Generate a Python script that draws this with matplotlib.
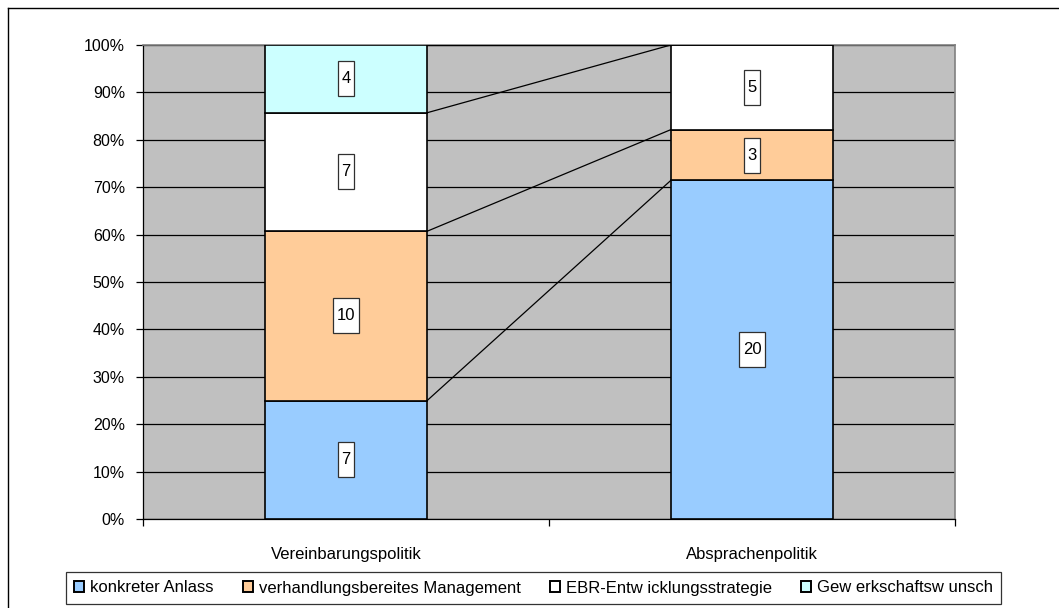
import matplotlib
matplotlib.use("Agg")
import matplotlib.pyplot as plt
import numpy as np
from matplotlib.patches import Patch
from matplotlib.lines import Line2D
from matplotlib.path import Path

plt.rcParams['font.family'] = ['Liberation Sans', 'DejaVu Sans']

categories = ["Vereinbarungspolitik", "Absprachenpolitik"]
series_names = ["konkreter Anlass", "verhandlungsbereites Management",
                "EBR-Entw icklungsstrategie", "Gew erkschaftsw unsch"]
konkreter = [7, 20]
management = [10, 3]
strategie = [7, 5]
gewerkschaft = [4, 0]
colors = ["#99CCFF", "#FFCC99", "#FFFFFF", "#CCFFFF"]

series = [konkreter, management, strategie, gewerkschaft]
vals = np.array(series, dtype=float)
totals = vals.sum(axis=0)
pct = vals / totals


def tall_box(x0, y0, width, height, mutation_size):
    px = 0.22 * mutation_size
    py = 0.6 * mutation_size
    x0, y0 = x0 - px, y0 - py
    x1, y1 = x0 + width + 2 * px, y0 + height + 2 * py
    return Path([(x0, y0), (x1, y0), (x1, y1), (x0, y1), (x0, y0)], closed=True)


W, H = 1059, 608
fig = plt.figure(figsize=(W / 100, H / 100), dpi=100)
ax = fig.add_axes([143 / W, 1 - 519 / H, (955 - 143) / W, (519 - 45) / H])
ax.set_facecolor("#C0C0C0")

x = np.arange(len(categories))
bw = 0.4
bottom = np.zeros(len(categories))
for i, (name, col) in enumerate(zip(series_names, colors)):
    ax.bar(x, pct[i], bw, bottom=bottom, color=col, edgecolor="black",
           linewidth=1.2, zorder=3)
    for j in range(len(categories)):
        if vals[i, j] > 0:
            ax.text(x[j], bottom[j] + pct[i, j] / 2, f"{int(vals[i, j])}",
                    ha="center", va="center", fontsize=12, zorder=5,
                    bbox=dict(boxstyle=tall_box, fc="white",
                              ec="#303030", lw=0.9))
    bottom = bottom + pct[i]

# series lines
cum = np.cumsum(pct, axis=0)
for i in range(len(series_names)):
    ax.plot([x[0] + bw / 2, x[1] - bw / 2], [cum[i, 0], cum[i, 1]],
            color="black", lw=0.9, zorder=4)

ax.set_xlim(-0.5, 1.5)
ax.set_ylim(0, 1)
ax.set_yticks(np.arange(0, 1.01, 0.1))
ax.set_yticklabels([f"{int(round(v * 100))}%" for v in np.arange(0, 1.01, 0.1)])
ax.yaxis.grid(True, color="black", lw=0.9, zorder=1)
ax.set_axisbelow(True)

ax.set_xticks(x)
ax.set_xticklabels(categories)
ax.set_xticks([-0.5, 0.5, 1.5], minor=True)
ax.tick_params(axis="x", which="major", length=0, pad=20, labelsize=12)
ax.tick_params(axis="x", which="minor", length=5, width=0.9, color="black")
ax.tick_params(axis="y", length=5, width=0.9, pad=8, labelsize=11.5)

for s in ["top", "right"]:
    ax.spines[s].set_color("#808080")
    ax.spines[s].set_linewidth(1.2)
for s in ["left", "bottom"]:
    ax.spines[s].set_color("black")
    ax.spines[s].set_linewidth(0.9)

handles = [Patch(facecolor=c, edgecolor="black", lw=1.4) for c in colors]
leg = fig.legend(handles, series_names, loc="center",
                 bbox_to_anchor=(533.5 / W, 1 - 588 / H), ncol=4,
                 fontsize=12, frameon=True, fancybox=False,
                 handlelength=0.6, handleheight=0.6, handletextpad=0.35,
                 columnspacing=1.75, borderpad=0.5, edgecolor="black")
leg.get_frame().set_linewidth(0.9)

# outer chart frame
fig.add_artist(Line2D([8 / W, 1.0], [1 - 8 / H, 1 - 8 / H], color="black", lw=1.0,
                      transform=fig.transFigure))
fig.add_artist(Line2D([8 / W, 8 / W], [0, 1 - 8 / H], color="black", lw=1.0,
                      transform=fig.transFigure))

fig.savefig("out.png", dpi=100)
